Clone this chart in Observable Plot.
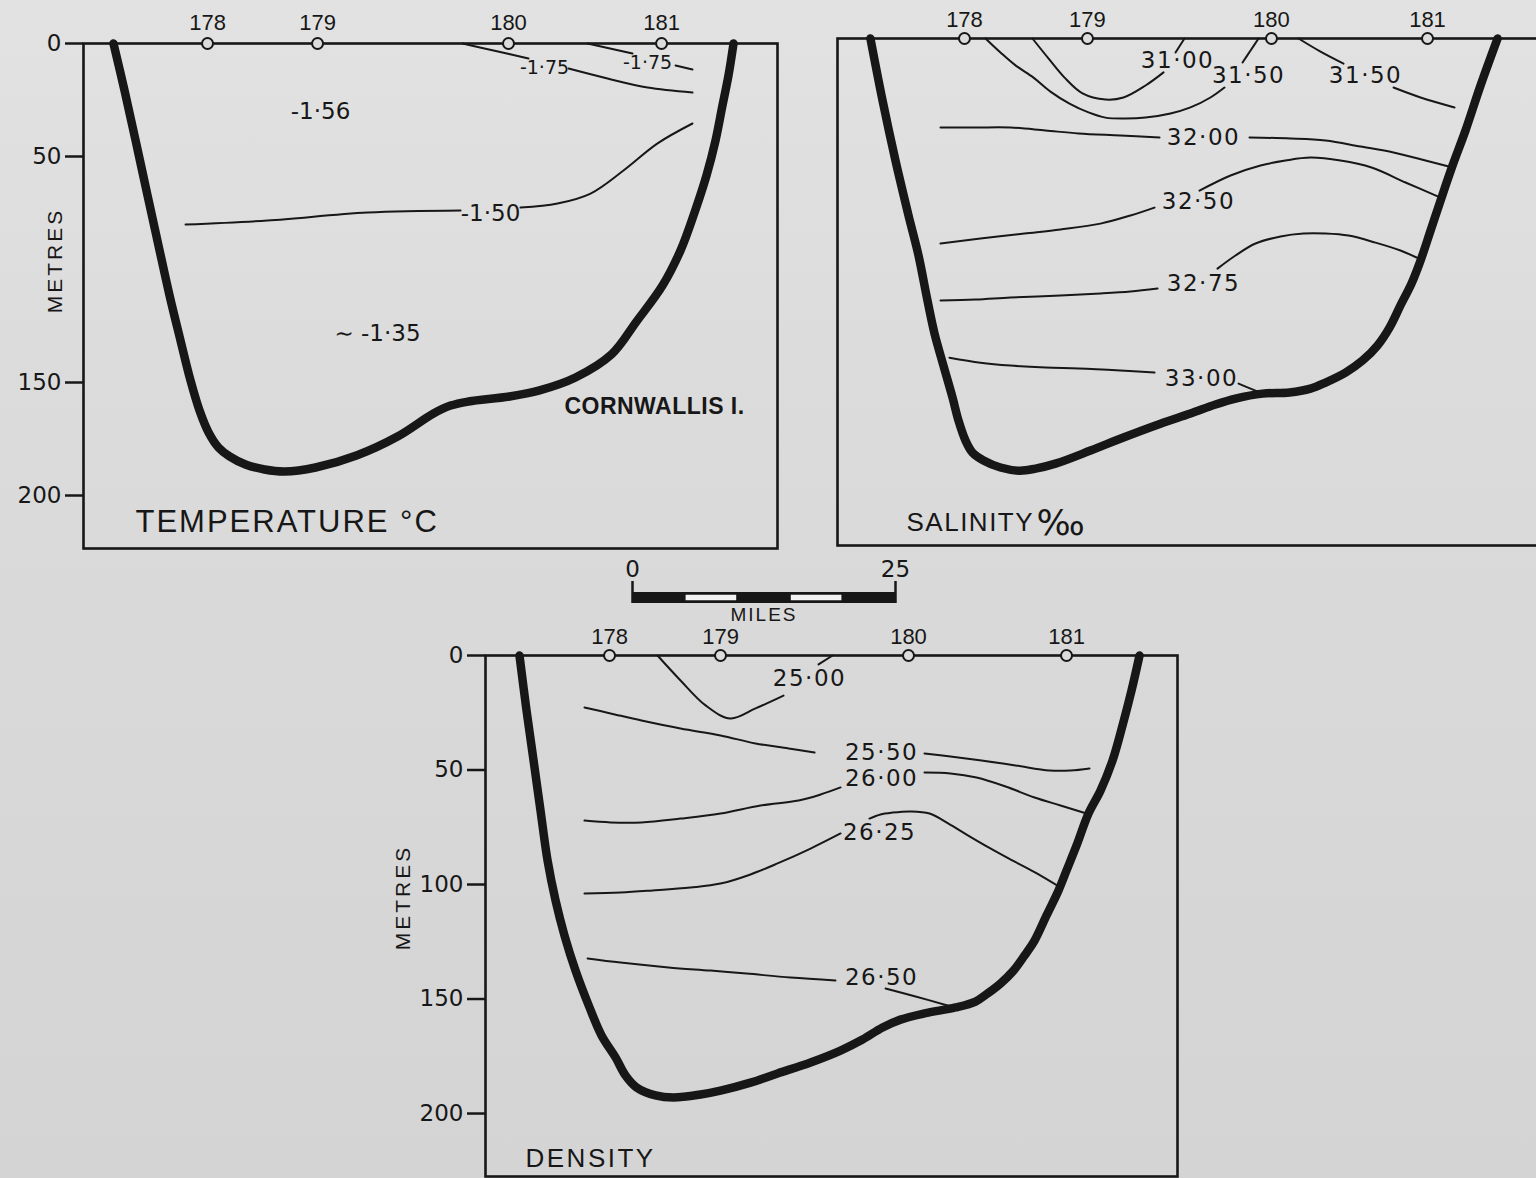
<!DOCTYPE html>
<html>
<head>
<meta charset="utf-8">
<script src="https://cdn.jsdelivr.net/npm/d3@7"></script>
<script src="https://cdn.jsdelivr.net/npm/@observablehq/plot@0.6"></script>
<style>
  html, body { margin: 0; padding: 0; background: #d8d8d8; }
  #page { position: relative; width: 1536px; height: 1178px; overflow: hidden;
          background: linear-gradient(to bottom, #e2e2e2 0%, #dbdbdb 35%, #d4d4d4 100%); }
  #page > svg { position: absolute; }
</style>
</head>
<body>
<div id="page"></div>
<script>
// ---------- DATA (x = miles from station 178, y = depth in metres) ----------
const tempTicks = [0, 50, 150, 200];
const tempStations = [
  {name: "178", mile: 0}, {name: "179", mile: 10.46}, {name: "180", mile: 28.61}, {name: "181", mile: 43.16}
];
const tempBottom = [
  [-8.94,0],[-7.89,20.8],[-6.84,42.9],[-5.70,67.3],[-4.66,89.4],[-3.61,111.5],[-2.57,131.4],[-1.62,149.1],
  [-0.76,162.4],[0.10,172.1],[1.05,178.8],[2.09,182.7],[3.61,186.3],[5.42,188.5],[7.32,189.4],
  [10.27,187.6],[14.16,182.3],[18.06,173.9],[21.48,163.7],[23.10,160.2],[24.81,158.4],[28.71,156.2],
  [31.56,153.5],[34.98,147.8],[38.40,137.6],[40.78,123.0],[43.25,107.1],[44.96,91.6],[46.29,74.8],
  [47.43,58.4],[48.29,42.9],[48.95,27.4],[49.52,14.2],[50.0,0]
];
const tempIsolines = [
  {id: "-1.50 w", pts: [[-2.09,80.1],[5.70,78.3],[15.21,74.8],[24.05,73.9]]},
  {id: "-1.50 e", pts: [[29.75,72.6],[33.27,70.8],[36.41,66.4],[39.54,56.2],[42.78,44.2],[46.10,35.4]]},
  {id: "-1.75 w1", pts: [[24.24,0],[27.4,3.3],[30.51,6.6]]},
  {id: "-1.75 w2", pts: [[34.32,11.1],[38.02,15.5],[41.83,19.5],[46.10,21.7]]},
  {id: "-1.75 e1", pts: [[36.12,0],[40.40,4.4]]},
  {id: "-1.75 e2", pts: [[44.49,9.7],[46.10,11.5]]}
];
const tempLabels = [
  {text: "-1·56", mile: 10.74, depth: 30.1},
  {text: "∼ -1·35", mile: 16.16, depth: 128.3},
  {text: "-1·50", mile: 26.9, depth: 75.2}
];
const tempSmallLabels = [
  {text: "-1·75", mile: 32.03, depth: 10.6},
  {text: "-1·75", mile: 41.83, depth: 8.4}
];
const tempPlaceLabels = [{text: "CORNWALLIS I.", mile: 42.49, depth: 160.6}];

const salStations = [
  {name: "178", mile: 0}, {name: "179", mile: 11.69}, {name: "180", mile: 29.18}, {name: "181", mile: 44.01}
];
const salBottom = [
  [-8.94,0],[-7.79,27.4],[-6.56,54.0],[-5.32,78.3],[-4.37,96.0],[-3.52,115.9],[-2.85,130.5],[-2.00,144.7],
  [-1.14,158.8],[-0.57,169.0],[0.10,177.9],[0.76,183.2],[1.81,186.7],[3.42,189.8],[5.23,191.2],[6.75,190.3],
  [8.65,188.1],[11.98,182.3],[15.11,176.5],[18.63,170.4],[21.48,165.9],[23.86,161.9],[25.76,159.3],
  [28.33,157.1],[30.89,156.6],[32.89,154.9],[34.32,152.2],[36.22,147.8],[37.83,142.5],[39.26,135.8],
  [40.40,127.9],[41.44,118.1],[42.49,108.4],[43.35,98.2],[44.30,85.0],[45.25,71.7],[46.39,56.2],
  [47.62,40.7],[49.05,20.8],[50.67,0]
];
const salIsolines = [
  {id: "31.00 a", pts: [[6.46,0],[7.98,8.8],[9.51,17.3],[11.22,24.3],[13.40,27.0],[15.11,26.1],[17.21,20.8],[18.92,15.0]]},
  {id: "31.00 b", pts: [[20.91,0],[20.06,6.2]]},
  {id: "31.50 a", pts: [[2.00,0],[3.42,6.2],[4.85,11.9],[6.56,17.3],[8.17,23.5],[9.98,28.8],[11.79,32.7],[13.40,35.0],
                        [15.30,35.4],[17.21,35.0],[19.58,33.2],[21.48,30.5],[23.38,26.1],[24.71,21.7]]},
  {id: "31.50 b", pts: [[27.95,0],[27.19,5.3],[26.43,10.6]]},
  {id: "31.50 c", pts: [[31.75,0],[33.84,5.8],[36.03,11.1]]},
  {id: "31.50 d", pts: [[40.78,21.7],[43.35,26.1],[46.58,30.5]]},
  {id: "32.00 a", pts: [[-2.28,39.4],[1.05,39.4],[4.37,39.4],[7.70,40.7],[10.84,42.0],[14.83,42.9],[18.54,43.8]]},
  {id: "32.00 b", pts: [[27.09,43.8],[30.99,44.2],[34.32,45.1],[37.64,47.8],[40.78,50.4],[43.82,54.0],[46.39,57.1]]},
  {id: "32.50 a", pts: [[-2.28,90.7],[1.52,88.5],[5.70,86.3],[9.13,84.5],[12.93,81.9],[15.78,78.3],[18.06,74.8]]},
  {id: "32.50 b", pts: [[22.34,67.3],[25.29,60.6],[28.14,56.2],[30.51,54.0],[32.89,52.7],[35.74,54.0],[38.69,57.1],[41.92,63.7],[45.25,70.4]]},
  {id: "32.75 a", pts: [[-2.28,115.9],[1.05,115.5],[4.37,114.6],[9.13,113.7],[12.93,112.8],[15.78,111.9],[18.35,110.6]]},
  {id: "32.75 b", pts: [[24.05,101.8],[25.76,96.0],[27.66,90.7],[30.04,87.6],[32.22,86.3],[34.32,86.3],[36.50,87.2],[39.07,90.3],[41.44,93.8],[42.97,96.9]]},
  {id: "33.00 a", pts: [[-1.43,141.2],[1.52,143.4],[4.37,144.7],[7.70,145.6],[10.84,146.0],[14.83,146.9],[18.06,147.8]]},
  {id: "33.00 b", pts: [[26.05,152.7],[27.19,154.9],[28.33,157.1]]}
];
const salLabels = [
  {text: "31·00", mile: 20.25, depth: 9.7},
  {text: "31·50", mile: 27.00, depth: 16.4},
  {text: "31·50", mile: 38.12, depth: 16.4},
  {text: "32·00", mile: 22.72, depth: 43.8},
  {text: "32·50", mile: 22.24, depth: 72.1},
  {text: "32·75", mile: 22.72, depth: 108.4},
  {text: "33·00", mile: 22.53, depth: 150.4}
];

const denTicks = [0, 50, 100, 150, 200];
const denStations = [
  {name: "178", mile: 0}, {name: "179", mile: 10.55}, {name: "180", mile: 28.42}, {name: "181", mile: 43.44}
];
const denBottom = [
  [-8.56,0],[-7.89,24.0],[-7.22,45.9],[-6.56,67.7],[-5.89,89.5],[-5.13,107.0],[-4.28,122.3],[-3.23,137.6],
  [-1.90,153.7],[-0.76,165.9],[0.57,175.5],[1.52,183.4],[2.57,188.6],[4.37,192.1],[6.08,193.0],[8.65,191.7],
  [10.55,190.0],[13.40,186.5],[15.97,182.5],[19.11,177.7],[21.96,172.5],[24.05,167.7],[25.95,162.4],
  [27.66,159.0],[29.94,156.3],[32.89,153.7],[34.79,151.1],[35.93,147.6],[37.17,143.2],[38.40,137.6],
  [39.45,131.0],[40.40,124.5],[41.54,113.5],[42.68,102.6],[43.44,93.9],[44.39,83.0],[45.53,69.0],
  [46.67,59.0],[47.81,45.9],[48.76,30.6],[49.62,15.3],[50.38,0]
];
const denIsolines = [
  {id: "25.00 a", pts: [[4.56,0],[6.75,10.9],[9.13,21.8],[11.50,27.5],[13.88,23.1],[16.54,17.5]]},
  {id: "25.00 b", pts: [[21.20,0],[19.87,3.9]]},
  {id: "25.50 a", pts: [[-2.38,22.7],[0.10,25.3],[3.04,28.4],[6.75,31.9],[10.55,34.9],[13.88,38.4],[17.02,40.6],[19.49,42.4]]},
  {id: "25.50 b", pts: [[29.94,42.8],[32.41,44.1],[35.36,45.9],[38.59,48.0],[41.83,50.2],[43.82,50.2],[45.63,49.3]]},
  {id: "26.00 a", pts: [[-2.38,72.1],[0.10,72.9],[3.04,72.9],[6.75,71.2],[10.55,69.0],[14.35,65.5],[17.97,63.3],[20.06,60.7],[21.96,57.6]]},
  {id: "26.00 b", pts: [[29.94,51.1],[32.41,51.5],[34.89,53.3],[37.64,57.2],[40.40,62.0],[42.87,65.5],[45.34,69.0]]},
  {id: "26.25 a", pts: [[-2.38,103.9],[1.05,103.5],[4.09,102.6],[7.70,101.3],[10.55,99.6],[13.40,95.6],[15.97,90.8],[19.11,84.3],[21.96,77.7]]},
  {id: "26.25 b", pts: [[24.71,71.2],[25.76,69.4],[26.90,68.6],[28.61,68.1],[30.42,69.0],[32.22,73.4],[33.94,78.2],[36.03,83.8],[37.93,88.6],[40.49,94.8],[42.87,101.3]]},
  {id: "26.50 a", pts: [[-2.09,132.3],[1.05,134.1],[5.61,136.2],[9.60,137.6],[13.02,138.9],[17.21,140.6],[21.48,141.9]]},
  {id: "26.50 b", pts: [[26.24,145.4],[29.09,148.9],[32.13,152.8]]}
];
const denLabels = [
  {text: "25·00", mile: 19.01, depth: 10.0},
  {text: "25·50", mile: 25.86, depth: 42.4},
  {text: "26·00", mile: 25.86, depth: 53.7},
  {text: "26·25", mile: 25.67, depth: 77.3},
  {text: "26·50", mile: 25.86, depth: 140.6}
];

const scaleBreaks = [0, 5, 10, 15, 20, 25];   // miles
const scaleLabels = [0, 25];

// ---------- DRAWING ----------
const INK = "#171717";
const PAPER = "#dcdcdc";
const page = document.getElementById("page");
const flat = lines => lines.flatMap(l => l.pts.map(([mile, depth]) => ({id: l.id, mile, depth})));

function spacing(svg, rules) {
  d3.select(svg).selectAll("text").each(function () {
    const t = this.textContent;
    for (const [test, ls] of rules) if (test(t)) this.setAttribute("letter-spacing", ls);
  });
}

function section(cfg) {
  const marks = [];
  if (cfg.ticks) marks.push(Plot.axisY({
    ticks: cfg.ticks, tickSize: 18, tickPadding: 4, fontSize: 23, strokeWidth: 2.5,
    label: null, tickFormat: d => String(d)
  }));
  marks.push(Plot.frame({stroke: INK, strokeWidth: 2.6}));
  marks.push(Plot.line(flat(cfg.lines), {x: "mile", y: "depth", z: "id", stroke: INK, strokeWidth: 2, curve: "catmull-rom"}));
  marks.push(Plot.text(cfg.labels, {x: "mile", y: "depth", text: "text", fontSize: 23, fill: INK}));
  marks.push(...cfg.extra);
  marks.push(Plot.line(cfg.bottom, {x: d => d[0], y: d => d[1], stroke: INK, strokeWidth: 8.5,
    curve: "catmull-rom", strokeLinejoin: "round"}));
  marks.push(Plot.dot(cfg.stations, {x: "mile", y: () => 0, r: 5.5, fill: PAPER, stroke: INK, strokeWidth: 2}));
  marks.push(Plot.text(cfg.stations, {x: "mile", y: () => 0, dy: cfg.stationDy, text: "name",
    fontSize: 22, fontFamily: "Liberation Sans", fill: INK}));
  const svg = Plot.plot({
    ...cfg.size,
    x: {domain: cfg.xDomain, axis: null},
    y: {domain: cfg.yDomain, reverse: true, ...(cfg.ticks ? {} : {axis: null})},
    style: {background: "transparent", overflow: "visible", maxWidth: "none",
            fontFamily: "DejaVu Sans", color: INK},
    marks
  });
  svg.style.left = cfg.pos[0] + "px";
  svg.style.top = cfg.pos[1] + "px";
  spacing(svg, [
    [t => /^\d\d·\d\d$/.test(t), 1.5],
    [t => t === "METRES", 3],
    [t => t === "TEMPERATURE °C", 2],
    [t => t === "SALINITY", 1.5],
    [t => t === "DENSITY", 2.5],
    [t => t === "CORNWALLIS I.", 0.5]
  ]);
  page.appendChild(svg);
}

// Temperature
section({
  pos: [0, 0],
  size: {width: 781, height: 552, marginLeft: 83, marginRight: 4, marginTop: 43, marginBottom: 4},
  xDomain: [-11.79, 54.18], yDomain: [0, 223.45],
  ticks: tempTicks, stations: tempStations, stationDy: -21,
  bottom: tempBottom, lines: tempIsolines, labels: tempLabels,
  extra: [
    Plot.text(tempSmallLabels, {x: "mile", y: "depth", text: "text", fontSize: 19, fill: INK}),
    Plot.text(tempPlaceLabels, {x: "mile", y: "depth", text: "text", fontSize: 23, fontWeight: "bold",
      fontFamily: "Liberation Sans", fill: INK}),
    Plot.text(["METRES"], {frameAnchor: "left", y: () => 96, dx: -28, rotate: -90, textAnchor: "middle",
      lineAnchor: "middle", fontSize: 21, fontFamily: "Liberation Sans", fill: INK}),
    Plot.text(["TEMPERATURE °C"], {frameAnchor: "bottom-left", dx: 52, dy: -26, textAnchor: "start",
      lineAnchor: "middle", fontSize: 31, fontFamily: "Liberation Sans", fill: INK})
  ]
});

// Salinity
section({
  pos: [833, 0],
  size: {width: 711, height: 549, marginLeft: 4, marginRight: 4, marginTop: 38, marginBottom: 4},
  xDomain: [-12.07, 54.75], yDomain: [0, 224.3],
  ticks: null, stations: salStations, stationDy: -19,
  bottom: salBottom, lines: salIsolines, labels: salLabels,
  extra: [
    Plot.text(["SALINITY"], {frameAnchor: "bottom-left", dx: 69, dy: -23, textAnchor: "start",
      lineAnchor: "middle", fontSize: 26, fontFamily: "Liberation Sans", fill: INK}),
    Plot.text(["‰"], {frameAnchor: "bottom-left", dx: 199, dy: -22, textAnchor: "start",
      lineAnchor: "middle", fontSize: 36, fontFamily: "DejaVu Sans", fill: INK})
  ]
});

// Density
section({
  pos: [385, 615],
  size: {width: 796, height: 565, marginLeft: 100, marginRight: 4, marginTop: 40, marginBottom: 4},
  xDomain: [-11.79, 53.99], yDomain: [0, 227.5],
  ticks: denTicks, stations: denStations, stationDy: -19,
  bottom: denBottom, lines: denIsolines, labels: denLabels,
  extra: [
    Plot.text(["METRES"], {frameAnchor: "left", y: () => 105.7, dx: -82, rotate: -90, textAnchor: "middle",
      lineAnchor: "middle", fontSize: 21, fontFamily: "Liberation Sans", fill: INK}),
    Plot.text(["DENSITY"], {frameAnchor: "bottom-left", dx: 40, dy: -18, textAnchor: "start",
      lineAnchor: "middle", fontSize: 26, fontFamily: "Liberation Sans", fill: INK})
  ]
});

// Scale bar (miles)
{
  const segs = d3.pairs(scaleBreaks).map(([a, b], i) => ({a, b, i}));
  const svg = Plot.plot({
    width: 303, height: 70, marginLeft: 20, marginRight: 20, marginTop: 37, marginBottom: 22,
    x: {domain: [0, 25], axis: null},
    y: {domain: [0, 1], axis: null},
    style: {background: "transparent", overflow: "visible", maxWidth: "none", fontFamily: "DejaVu Sans", color: INK},
    marks: [
      Plot.rect([{a: scaleBreaks[0], b: scaleBreaks[scaleBreaks.length - 1]}],
        {x1: "a", x2: "b", y1: () => 0, y2: () => 1, fill: INK}),
      Plot.rect(segs.filter(d => d.i % 2 === 1),
        {x1: "a", x2: "b", y1: () => 0.25, y2: () => 0.75, fill: "#f3f3f3", insetLeft: 1, insetRight: 1}),
      Plot.ruleX(scaleLabels, {x: d => d, y1: () => 0, y2: () => 2, stroke: INK, strokeWidth: 2.5}),
      Plot.text(scaleLabels, {x: d => d, y: () => 2, dy: -12, text: d => String(d), fontSize: 23, fill: INK}),
      Plot.text(["MILES"], {x: () => 12.5, y: () => 0, dy: 11, fontSize: 19,
        fontFamily: "Liberation Sans", fill: INK})
    ]
  });
  svg.style.left = "612px";
  svg.style.top = "555px";
  d3.select(svg).selectAll("text").filter(function () { return this.textContent === "MILES"; })
    .attr("letter-spacing", 2);
  page.appendChild(svg);
}
</script>
</body>
</html>
